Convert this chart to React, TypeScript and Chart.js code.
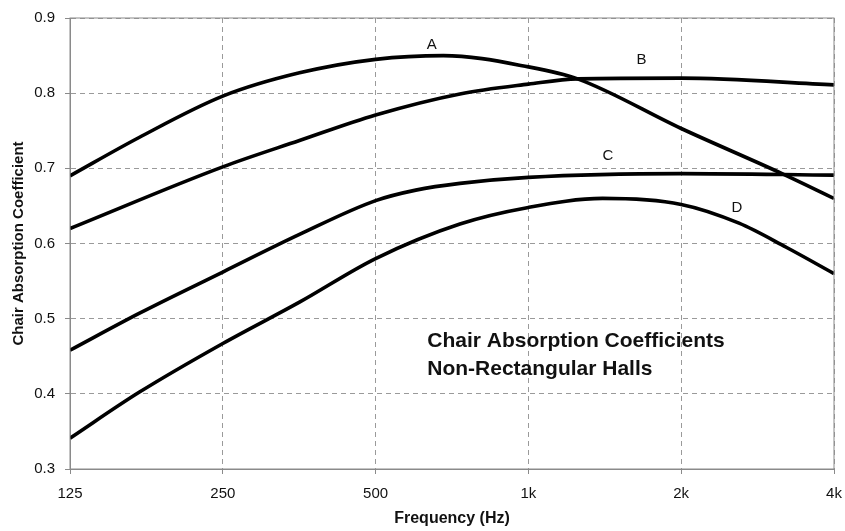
import React, { useEffect, useRef } from "react";
import { Chart, registerables } from "chart.js";

Chart.register(...registerables);

const TICK_LABELS = ["125", "250", "500", "1k", "2k", "4k"];
const Y_TICKS = [0.3, 0.4, 0.5, 0.6, 0.7, 0.8, 0.9];

// Frequencies (Hz) and coefficients for each curve
const A_FREQ = [125, 171, 250, 354, 500, 680, 1000, 1250, 2000, 3160, 4000];
const A_VAL = [0.69, 0.741, 0.796, 0.827, 0.845, 0.85, 0.835, 0.819, 0.753, 0.693, 0.66];

const B_FREQ = [125, 250, 354, 500, 733, 1000, 1250, 2000, 4000];
const B_VAL = [0.62, 0.702, 0.737, 0.771, 0.799, 0.812, 0.819, 0.82, 0.811];

const C_FREQ = [125, 171, 250, 354, 500, 600, 733, 1000, 2000, 4000];
const C_VAL = [0.458, 0.507, 0.562, 0.612, 0.657, 0.671, 0.68, 0.688, 0.693, 0.691];

const D_FREQ = [125, 171, 250, 354, 500, 733, 1000, 1400, 2000, 2600, 3220, 4000];
const D_VAL = [0.341, 0.402, 0.467, 0.522, 0.58, 0.626, 0.648, 0.66, 0.652, 0.627, 0.595, 0.56];

// Curve label names and their anchor (frequency Hz, coefficient)
const CURVE_NAMES = ["A", "B", "C", "D"];
const CURVE_LABEL_FREQ = [645, 1670, 1435, 2575];
const CURVE_LABEL_VAL = [0.864, 0.844, 0.717, 0.648];

const NOTE_LINES = ["Chair Absorption Coefficients", "Non-Rectangular Halls"];
const NOTE_FREQ = 632;
const NOTE_VAL = [0.462, 0.425];

const BASE_FREQ = 125;
const pos = (f: number) => Math.log2(f / BASE_FREQ);
const toPoints = (fs: number[], vs: number[]) => fs.map((f, i) => ({ x: pos(f), y: vs[i] }));

const FONT = "'Liberation Sans', Arial, Helvetica, sans-serif";

const overlayPlugin = {
  id: "overlay",
  afterDatasetsDraw(chart: any) {
    const { ctx, chartArea, scales } = chart;
    const xs = scales.x;
    const ys = scales.y;
    ctx.save();
    // frame
    ctx.strokeStyle = "#8a8a8a";
    ctx.lineWidth = 1;
    ctx.setLineDash([]);
    ctx.strokeRect(chartArea.left, chartArea.top, chartArea.right - chartArea.left, chartArea.bottom - chartArea.top);
    // curve labels
    ctx.fillStyle = "#111";
    ctx.font = `15px ${FONT}`;
    ctx.textAlign = "center";
    ctx.textBaseline = "middle";
    CURVE_NAMES.forEach((n, i) => {
      ctx.fillText(n, xs.getPixelForValue(pos(CURVE_LABEL_FREQ[i])), ys.getPixelForValue(CURVE_LABEL_VAL[i]));
    });
    // note
    ctx.font = `bold 21px ${FONT}`;
    ctx.textAlign = "left";
    ctx.textBaseline = "alphabetic";
    NOTE_LINES.forEach((t, i) => {
      ctx.fillText(t, xs.getPixelForValue(pos(NOTE_FREQ)), ys.getPixelForValue(NOTE_VAL[i]));
    });
    ctx.restore();
  },
};

export default function App() {
  const ref = useRef<HTMLCanvasElement | null>(null);

  useEffect(() => {
    if (!ref.current) return;
    Chart.defaults.font.family = FONT;
    const mk = (label: string, fs: number[], vs: number[]) => ({
      label,
      data: toPoints(fs, vs),
      borderColor: "#000",
      borderWidth: 3.6,
      pointRadius: 0,
      fill: false,
      cubicInterpolationMode: "monotone" as const,
    });
    const chart = new Chart(ref.current, {
      type: "line",
      data: {
        datasets: [
          mk("A", A_FREQ, A_VAL),
          mk("B", B_FREQ, B_VAL),
          mk("C", C_FREQ, C_VAL),
          mk("D", D_FREQ, D_VAL),
        ],
      },
      options: {
        responsive: false,
        animation: false,
        layout: { padding: { left: 0, top: 18, right: 11, bottom: 0 } },
        plugins: { legend: { display: false }, tooltip: { enabled: false } },
        scales: {
          x: {
            type: "linear",
            min: 0,
            max: TICK_LABELS.length - 1,
            afterBuildTicks: (s: any) => {
              s.ticks = TICK_LABELS.map((_, i) => ({ value: i }));
            },
            afterFit: (s: any) => {
              s.height = 62;
              s.paddingLeft = 0;
              s.paddingRight = 0;
            },
            ticks: {
              callback: (v: any) => TICK_LABELS[Math.round(Number(v))],
              font: { size: 15 },
              color: "#111",
              padding: 11,
              maxRotation: 0,
            },
            grid: { color: "#9a9a9a", lineWidth: 1, tickLength: 5, tickColor: "#8a8a8a" },
            border: { color: "#8a8a8a", dash: [5, 4] },
            title: {
              display: true,
              text: "Frequency (Hz)",
              font: { size: 16, weight: "bold" },
              color: "#111",
              padding: { top: 0, bottom: 3 },
            },
          },
          y: {
            type: "linear",
            min: Y_TICKS[0],
            max: Y_TICKS[Y_TICKS.length - 1],
            afterBuildTicks: (s: any) => {
              s.ticks = Y_TICKS.map((v) => ({ value: v }));
            },
            afterFit: (s: any) => {
              s.width = 70;
              s.paddingTop = 0;
              s.paddingBottom = 0;
            },
            ticks: {
              callback: (v: any) => Number(v).toFixed(1),
              font: { size: 15 },
              color: "#111",
              padding: 10,
            },
            grid: { color: "#9a9a9a", lineWidth: 1, tickLength: 5, tickColor: "#8a8a8a" },
            border: { color: "#8a8a8a", dash: [5, 4] },
            title: {
              display: true,
              text: "Chair Absorption Coefficient",
              font: { size: 15, weight: "bold" },
              color: "#111",
              padding: { top: 10, bottom: 0 },
            },
          },
        },
      },
      plugins: [overlayPlugin],
    });
    return () => chart.destroy();
  }, []);

  return (
    <div style={{ position: "fixed", left: 0, top: 0, width: 845, height: 531, background: "#fff" }}>
      <canvas ref={ref} width={845} height={531} style={{ display: "block" }} />
    </div>
  );
}
